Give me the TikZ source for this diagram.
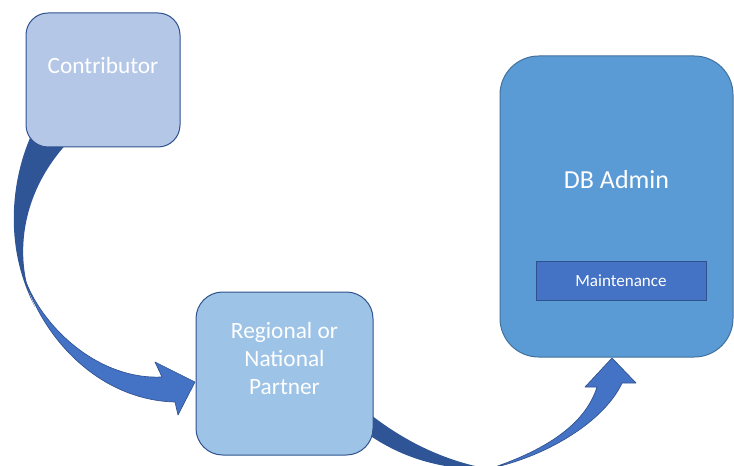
\documentclass[tikz,border=0pt]{standalone}
\usepackage{fontspec}
\setmainfont{Carlito}
\definecolor{contribfill}{HTML}{B4C7E7}
\definecolor{partnerfill}{HTML}{9DC3E6}
\definecolor{adminfill}{HTML}{5B9BD5}
\definecolor{adminedge}{HTML}{41719C}
\definecolor{accentblue}{HTML}{4472C4}
\definecolor{edgeblue}{HTML}{2F528F}
\definecolor{backblue}{HTML}{2F5597}

\begin{document}
\begin{tikzpicture}[x=0.75pt, y=-0.75pt,
	rbox/.style={draw=edgeblue, line width=0.75pt, inner sep=0pt},
	boxtext/.style={text=white, align=center, font=\fontsize{17.5}{21}\selectfont},
	arrowfront/.style={fill=accentblue, draw=edgeblue, line width=0.5pt, line join=round},
	arrowback/.style={fill=backblue}]
	\clip (0,0) rectangle (734,466);
	
	% Curved arrows (drawn first, they go under the boxes)
	\coordinate (tipA) at (195,382);
	\coordinate (tipB) at (612,358);
	
	% back part of the first arrow
	\fill[arrowback] (30,138) .. controls (10,185) and (5,250) .. (35,307)
		.. controls (15,265) and (16,195) .. (72,138) -- cycle;
	% front part of the first arrow
	\draw[arrowfront] (26,282) .. controls (45,340) and (100,400) .. (175,402)
		-- (178,415) -- (tipA) -- (155,362) -- (162,377)
		.. controls (100,380) and (45,330) .. (26,282) -- cycle;
	
	% back part of the second arrow
	\fill[arrowback] (360,406) .. controls (400,440) and (445,462) .. (495,470)
		.. controls (440,470) and (400,458) .. (362,430) -- cycle;
	% front part of the second arrow
	\draw[arrowfront] (492,468) .. controls (550,455) and (605,420) .. (622,383)
		-- (636,383) -- (tipB) -- (585,387) -- (597,387)
		.. controls (585,425) and (545,450) .. (492,468) -- cycle;
	
	% Boxes
	\node[rbox, fill=contribfill, rounded corners=16.5pt,
		minimum width=115.5pt, minimum height=100.5pt] (contrib) at (103,80) {};
	\node[rbox, fill=partnerfill, rounded corners=20pt,
		minimum width=132.75pt, minimum height=122.25pt] (partner) at (284.5,373.5) {};
	\node[rbox, draw=adminedge, fill=adminfill, rounded corners=29pt,
		minimum width=174.75pt, minimum height=225.75pt] (dbadmin) at (616.5,206.5) {};
	\node[rbox, fill=accentblue, minimum width=127.5pt, minimum height=28.5pt,
		text=white, font=\fontsize{12.8}{15}\selectfont] (maint) at (621,281) {Maintenance};
	
	% Box texts
	\node[boxtext] (contribtxt) at ([yshift=11.25pt]contrib.center) {Contributor};
	\node[boxtext] (partnertxt) at ([yshift=11pt]partner.center) {Regional or\\National\\Partner};
	\node[boxtext, font=\fontsize{19.5}{23}\selectfont] (dbtxt) at ([yshift=19.9pt]dbadmin.center) {DB Admin};
	
\end{tikzpicture}
\end{document}
